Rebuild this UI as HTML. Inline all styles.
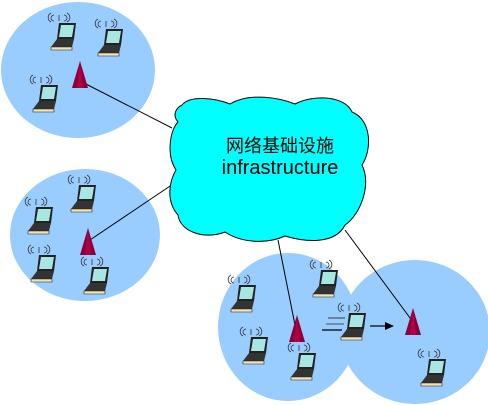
<!DOCTYPE html>
<html><head><meta charset="utf-8"><style>body{margin:0;background:#fff}svg{display:block}</style></head><body>
<svg width="488" height="405" viewBox="0 0 488 405" xmlns="http://www.w3.org/2000/svg">
<defs>
<g id="lap">
<path d="M-9,-15 a3,3 0 0 1 0,-6 M-12,-14 a5,5 0 0 1 0,-9 M1,-15 a3,3 0 0 0 0,-6 M4,-14 a5,5 0 0 0 0,-9 M-4,-15 l0,-6" stroke="#333" stroke-width="0.8" fill="none"/>
<polygon points="-4,-13 13,-13 11,3 -6,3" fill="#222"/>
<polygon points="-2,-11 11,-11 9,1 -4,1" fill="#a8e6e2"/>
<polygon points="-6,3 11,3 9,11 -12,11" fill="#333"/>
<polygon points="-12,11 9,11 9,14 -12,14" fill="#efe2b4" stroke="#222" stroke-width="0.6"/>
</g>
<g id="tow">
<polygon points="0,-15 8,12 -8,12" fill="#8b0035"/>
<polygon points="0,-15 3,12 -3,12" fill="#b0004a"/>
</g>
</defs>
<ellipse cx="78" cy="70" rx="77" ry="68" fill="#99ccff"/>
<ellipse cx="85" cy="235" rx="75" ry="66" fill="#99ccff"/>
<ellipse cx="415" cy="332" rx="75" ry="72" fill="#99ccff"/>
<ellipse cx="288" cy="327" rx="70" ry="74" fill="#99ccff"/>
<g stroke="#000" stroke-width="1">
<line x1="82" y1="82" x2="172" y2="128"/>
<line x1="90" y1="240" x2="182" y2="178"/>
<line x1="278" y1="240" x2="296" y2="330"/>
<line x1="345" y1="230" x2="413" y2="322"/>
</g>
<path d="M182,105 C190,95 215,98 230,104 C250,92 280,98 295,104 C315,94 345,96 352,112 C372,120 372,150 362,165 C372,185 360,215 345,225 C335,245 305,242 285,236 C265,245 240,242 225,232 C205,240 180,232 178,215 C165,200 170,180 176,170 C166,155 170,130 178,122 C172,115 176,108 182,105 Z" fill="#00ffff" stroke="#000" stroke-width="1"/>
<text x="280" y="152" text-anchor="middle" font-family="'Liberation Sans','Noto Sans CJK SC',sans-serif" font-size="18">网络基础设施</text>
<text x="280" y="174" text-anchor="middle" font-family="'Liberation Sans','Noto Sans CJK SC',sans-serif" font-size="20">infrastructure</text>
<use href="#lap" x="63" y="36"/><use href="#lap" x="110" y="42"/><use href="#lap" x="45" y="98"/>
<use href="#lap" x="83" y="198"/><use href="#lap" x="40" y="220"/><use href="#lap" x="43" y="268"/><use href="#lap" x="96" y="280"/>
<use href="#lap" x="243" y="298"/><use href="#lap" x="325" y="283"/><use href="#lap" x="255" y="350"/><use href="#lap" x="303" y="366"/><use href="#lap" x="353" y="326"/><use href="#lap" x="433" y="372"/>
<use href="#tow" x="80" y="76"/><use href="#tow" x="88" y="243"/><use href="#tow" x="297" y="330"/><use href="#tow" x="413" y="323"/>
<g stroke="#000" stroke-width="1.2"><line x1="328" y1="318" x2="345" y2="318" stroke="#555"/><line x1="326" y1="324" x2="344" y2="324" stroke="#667"/><line x1="322" y1="330" x2="342" y2="330"/>
<line x1="370" y1="326" x2="386" y2="326"/></g>
<polygon points="385,322 394,326 385,330" fill="#000"/>
</svg>
</body></html>
